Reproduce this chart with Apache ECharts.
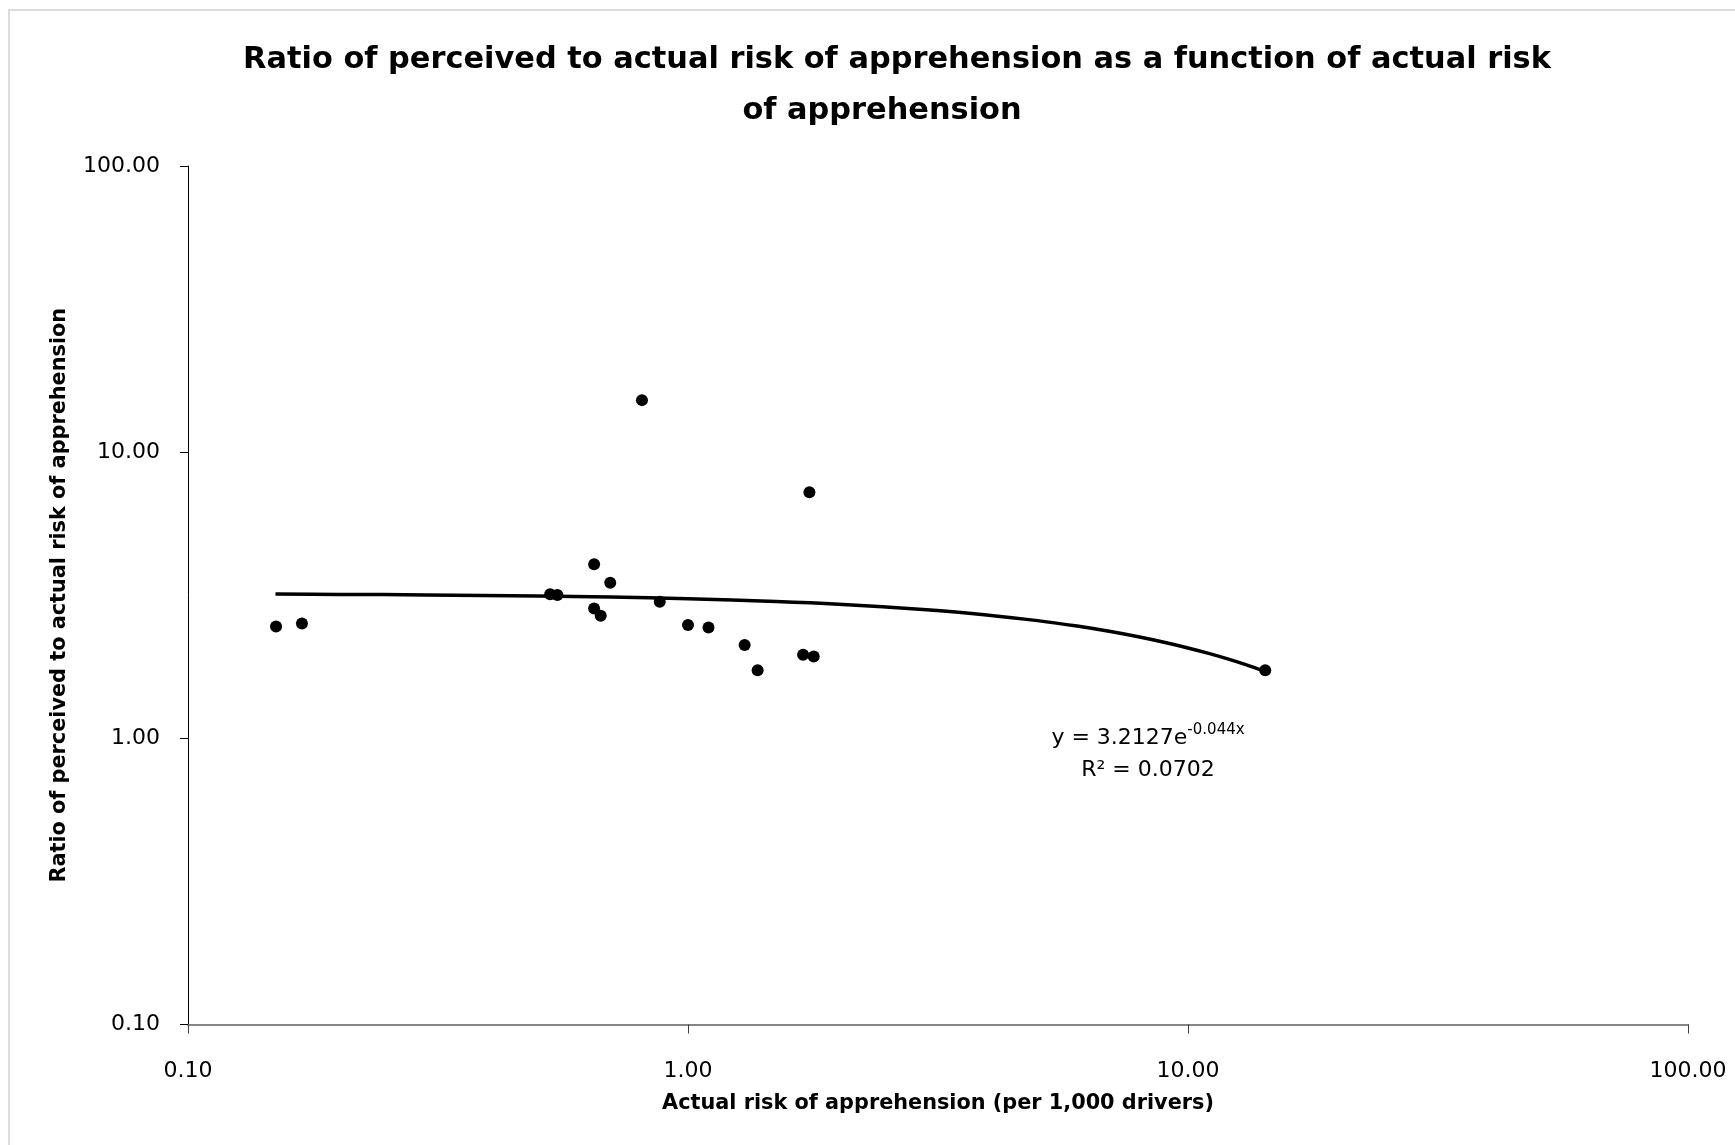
<!DOCTYPE html>
<html>
<head>
<meta charset="utf-8">
<script src="https://cdn.jsdelivr.net/npm/echarts@6/dist/echarts.min.js"></script>
<style>
html,body{margin:0;padding:0;background:#fff;}
#chart{width:1735px;height:1145px;}
</style>
</head>
<body>
<div id="chart"></div>
<script>
const titleLine1 = "Ratio of perceived to actual risk of apprehension as a function of actual risk";
const titleLine2 = "of apprehension";
const xAxisName = "Actual risk of apprehension (per 1,000 drivers)";
const yAxisName = "Ratio of perceived to actual risk of apprehension";

// Observed points: actual risk (x) and ratio perceived/actual (y)
const actualRisk = [0.150, 0.169, 0.530, 0.548, 0.649, 0.699, 0.809, 0.649, 0.669, 0.878, 1.00, 1.099, 1.298, 1.378, 1.699, 1.784, 1.749, 14.27];
const ratio      = [2.46, 2.52, 3.19, 3.17, 4.06, 3.50, 15.2, 2.84, 2.68, 3.00, 2.49, 2.44, 2.12, 1.73, 1.96, 1.93, 7.25, 1.73];

// Exponential trendline as drawn (y = 3.2127e^-0.044x)
const trendX = [0.1496, 0.2, 0.3, 0.5, 0.7, 1, 1.5, 2, 3, 4, 5, 6, 7, 8, 9, 10, 11, 12, 13, 14.27];
const trendY = [3.1916, 3.1846, 3.1706, 3.1428, 3.1153, 3.0744, 3.0075, 2.9421, 2.8154, 2.6942, 2.5783, 2.4673, 2.3611, 2.2594, 2.1622, 2.0691, 1.9801, 1.8948, 1.8133, 1.7148];

const equationText = "y = 3.2127e";
const equationExp = "-0.044x";
const r2Text = "R² = 0.0702";

const axisMin = 0.1, axisMax = 100;

const chart = echarts.init(document.getElementById('chart'), null, {renderer: 'canvas'});
const labelFont = 'DejaVu Sans';
const boldFont = 'DejaVu Sans';

chart.setOption({
  backgroundColor: '#ffffff',
  animation: false,
  grid: {left: 188, right: 47, top: 166, bottom: 120.5, containLabel: false},
  xAxis: {
    type: 'log', logBase: 10, min: axisMin, max: axisMax,
    name: xAxisName, nameLocation: 'middle', nameGap: 69,
    nameTextStyle: {fontFamily: boldFont, fontWeight: 'bold', fontSize: 20.8, color: '#000'},
    axisLine: {show: true, onZero: false, lineStyle: {color: '#868686', width: 2}},
    axisTick: {show: true, inside: false, length: 9, lineStyle: {color: '#404040', width: 1}},
    axisLabel: {margin: 36, fontFamily: labelFont, fontSize: 22, color: '#000',
      formatter: v => Number(v).toFixed(2)},
    splitLine: {show: false}, minorTick: {show: false}
  },
  yAxis: {
    type: 'log', logBase: 10, min: axisMin, max: axisMax,
    name: yAxisName, nameLocation: 'middle', nameGap: 118, nameRotate: 90,
    nameTextStyle: {fontFamily: boldFont, fontWeight: 'bold', fontSize: 20.8, color: '#000'},
    axisLine: {show: true, onZero: false, lineStyle: {color: '#000', width: 1}},
    axisTick: {show: true, inside: false, length: 8, lineStyle: {color: '#000', width: 1}},
    axisLabel: {margin: 28, fontFamily: labelFont, fontSize: 22, color: '#000',
      formatter: v => Number(v).toFixed(2)},
    splitLine: {show: false}
  },
  graphic: [
    {type: 'rect', silent: true, z: -10,
     shape: {x: 9, y: 10, width: 1800, height: 1200},
     style: {fill: 'none', stroke: '#dcdcdc', lineWidth: 2}},
    {type: 'text', x: 897, y: 60, style: {text: titleLine1, fontFamily: boldFont, fontWeight: 'bold', fontSize: 30.4, fill: '#000', textAlign: 'center', textVerticalAlign: 'middle'}},
    {type: 'text', x: 882, y: 111, style: {text: titleLine2, fontFamily: boldFont, fontWeight: 'bold', fontSize: 30.4, fill: '#000', textAlign: 'center', textVerticalAlign: 'middle'}},
    {type: 'text', x: 1148, y: 738, style: {
      text: '{m|' + equationText + '}{s|' + equationExp + '}',
      textAlign: 'center', textVerticalAlign: 'middle',
      rich: {
        m: {fontFamily: labelFont, fontSize: 22, fill: '#000', lineHeight: 30},
        s: {fontFamily: labelFont, fontSize: 15, fill: '#000', lineHeight: 30, verticalAlign: 'top'}
      }}},
    {type: 'text', x: 1148, y: 770, style: {text: r2Text, fontFamily: labelFont, fontSize: 22, fill: '#000', textAlign: 'center', textVerticalAlign: 'middle'}}
  ],
  series: [
    {
      type: 'line', name: 'trend', data: trendX.map((x, i) => [x, trendY[i]]),
      showSymbol: false, smooth: 0.3, lineStyle: {color: '#000', width: 3.5}, z: 2
    },
    {
      type: 'scatter', name: 'data', data: actualRisk.map((x, i) => [x, ratio[i]]),
      symbol: 'circle', symbolSize: 12, itemStyle: {color: '#000', opacity: 1}, z: 3
    }
  ]
});
</script>
</body>
</html>
